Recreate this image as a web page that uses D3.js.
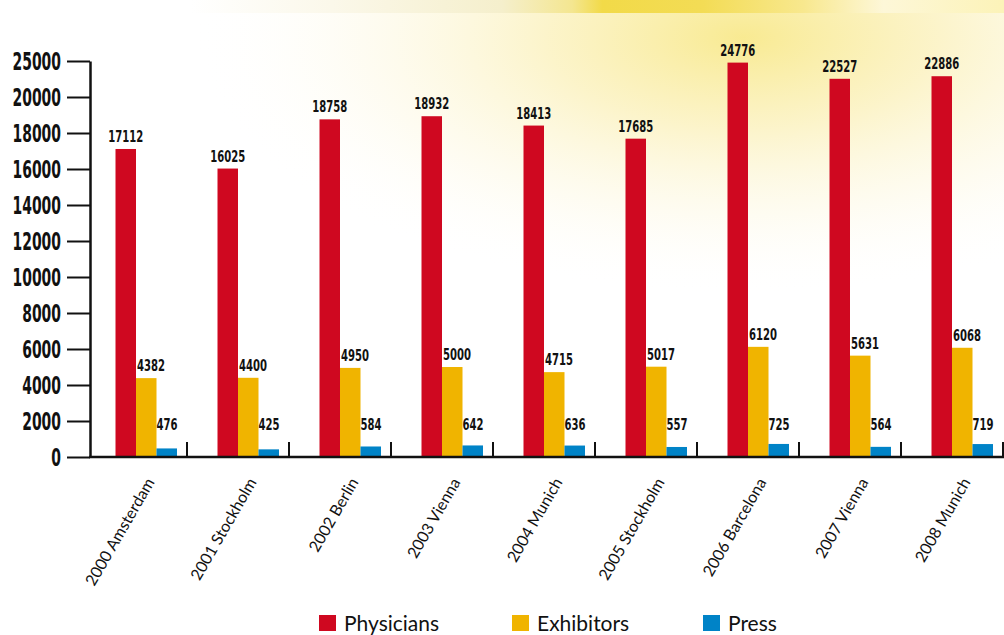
<!DOCTYPE html>
<html>
<head>
<meta charset="utf-8">
<script src="https://cdn.jsdelivr.net/npm/d3@7"></script>
<style>
  html, body { margin: 0; padding: 0; background: #fff; }
  svg { display: block; }
  .num { font-family: "Liberation Sans Narrow", "DejaVu Sans Condensed", sans-serif; font-weight: bold; fill: #111; }
  .cat, .legend { font-family: Lato, "Open Sans", sans-serif; fill: #111; }
</style>
</head>
<body>
<div id="chart"></div>
<script>
const categories = ["2000 Amsterdam", "2001 Stockholm", "2002 Berlin", "2003 Vienna", "2004 Munich",
                    "2005 Stockholm", "2006 Barcelona", "2007 Vienna", "2008 Munich"];
const seriesNames = ["Physicians", "Exhibitors", "Press"];
const physicians = [17112, 16025, 18758, 18932, 18413, 17685, 24776, 22527, 22886];
const exhibitors = [4382, 4400, 4950, 5000, 4715, 5017, 6120, 5631, 6068];
const press = [476, 425, 584, 642, 636, 557, 725, 564, 719];
const yTicks = [0, 2000, 4000, 6000, 8000, 10000, 12000, 14000, 16000, 18000, 20000, 25000];
const colors = ["#cf0820", "#f0b400", "#0083c7"];

const width = 1004, height = 635;

const svg = d3.select("#chart").append("svg")
    .attr("width", width)
    .attr("height", height);

// background wash
const defs = svg.append("defs");
const band = defs.append("linearGradient").attr("id", "topband");
[[0, "#ffffff"], [0.19, "#ffffff"], [0.33, "#fbf8ea"], [0.5, "#f5efcc"], [0.57, "#f4e690"],
 [0.6, "#f2da48"], [0.7, "#f3dc55"], [0.8, "#f8e88e"], [0.88, "#fdf7d8"], [1, "#fcf3b8"]]
    .forEach(s => band.append("stop").attr("offset", s[0]).attr("stop-color", s[1]));

const wash = defs.append("radialGradient").attr("id", "wash")
    .attr("cx", 0.74).attr("cy", 0.08).attr("r", 0.55);
[[0, "#f8e98c", 0.95], [0.35, "#fbf1bc", 0.8], [0.7, "#fdf8e0", 0.4], [1, "#ffffff", 0]]
    .forEach(s => wash.append("stop").attr("offset", s[0]).attr("stop-color", s[1]).attr("stop-opacity", s[2]));

svg.append("rect").attr("width", width).attr("height", height).attr("fill", "#fff");
svg.append("rect").attr("width", width).attr("height", 470).attr("fill", "url(#wash)");
svg.append("rect").attr("width", width).attr("height", 13).attr("fill", "url(#topband)");

// scales
const x = d3.scaleBand().domain(categories).range([85, 1003]);
const xs = d3.scaleBand().domain(seriesNames).range([30.5, 92]);
const y = d3.scaleLinear().domain([0, 20000, 25000]).range([457, 97, 61]);

const rows = categories.map((c, i) => ({
  cat: c,
  values: [physicians[i], exhibitors[i], press[i]]
}));

// y axis
const yAxis = svg.append("g")
    .attr("transform", "translate(90,0)")
    .call(d3.axisLeft(y).tickValues(yTicks).tickSize(23).tickSizeOuter(0).tickPadding(6).tickFormat(d => d));
yAxis.select(".domain").attr("stroke", "#111").attr("stroke-width", 2.5);
yAxis.selectAll(".tick line").attr("stroke", "#111").attr("stroke-width", 2);
yAxis.selectAll(".tick text")
    .attr("class", "num")
    .attr("font-size", 24)
    .attr("dy", "0.36em")
    .attr("textLength", d => String(d).length * 9.7)
    .attr("lengthAdjust", "spacingAndGlyphs");

// bars
const groups = svg.append("g").selectAll("g")
    .data(rows)
    .join("g")
    .attr("transform", d => `translate(${x(d.cat)},0)`);

groups.selectAll("rect")
    .data(d => d.values.map((v, k) => ({ key: seriesNames[k], value: v, k })))
    .join("rect")
    .attr("x", d => xs(d.key))
    .attr("width", xs.bandwidth())
    .attr("y", d => y(d.value))
    .attr("height", d => y(0) - y(d.value))
    .attr("fill", d => colors[d.k]);

// value labels
groups.selectAll("text")
    .data(d => d.values.map((v, k) => ({ key: seriesNames[k], value: v, k })))
    .join("text")
    .attr("class", "num")
    .attr("font-size", 16.5)
    .attr("text-anchor", d => d.k === 0 ? "middle" : "start")
    .attr("x", d => d.k === 0 ? xs(d.key) + xs.bandwidth() / 2 : xs(d.key) + (d.k === 1 ? 1 : 0))
    .attr("y", d => d.k === 2 ? 430 : y(d.value) - 7)
    .attr("textLength", d => String(d.value).length * 7)
    .attr("lengthAdjust", "spacingAndGlyphs")
    .text(d => d.value);

// x axis base line and separators
svg.append("line")
    .attr("x1", 89).attr("x2", width)
    .attr("y1", y(0)).attr("y2", y(0))
    .attr("stroke", "#111").attr("stroke-width", 2.5);

svg.append("g").selectAll("line")
    .data(categories)
    .join("line")
    .attr("x1", d => x(d) + x.bandwidth()).attr("x2", d => x(d) + x.bandwidth())
    .attr("y1", y(0) - 15).attr("y2", y(0))
    .attr("stroke", "#111").attr("stroke-width", 2);

// category labels
svg.append("g").selectAll("text")
    .data(categories)
    .join("text")
    .attr("class", "cat")
    .attr("font-size", 16)
    .attr("text-anchor", "end")
    .attr("transform", d => `translate(${x(d) + 70},482) rotate(-60)`)
    .text(d => d);

// legend
const legendX = [319, 512, 703];
const legend = svg.append("g").selectAll("g")
    .data(seriesNames)
    .join("g")
    .attr("transform", (d, i) => `translate(${legendX[i]},615)`);
legend.append("rect")
    .attr("width", 17).attr("height", 16)
    .attr("fill", (d, i) => colors[i]);
legend.append("text")
    .attr("class", "legend")
    .attr("x", 25).attr("y", 15.5)
    .attr("font-size", 21)
    .text(d => d);
</script>
</body>
</html>
